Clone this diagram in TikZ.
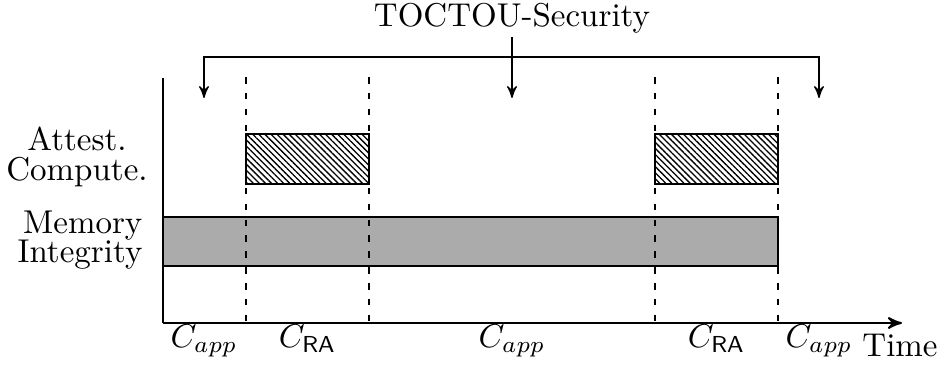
\documentclass[tikz,border=0pt]{standalone}
\usepackage{tikz}
\usetikzlibrary{arrows,patterns.meta}
\usepackage{amssymb}
\usepackage{amsmath}

\begin{document}
\begin{tikzpicture}[>=stealth',x=0.303pt,y=-0.303pt]

    \useasboundingbox (0,0) rectangle (943,373);

    % axes
    \coordinate (o) at (163,323);
    \coordinate (ytop) at (163,78);
    \coordinate (xend) at (902,323);
    \draw[semithick] (ytop) -- (o);
    \draw[semithick,->] (o) -- (xend);

    \node[rectangle,
          draw,
          fill = black!33,
          inner sep = 0pt,
          minimum width = 186.3pt,
          minimum height = 14.8pt
          ] (mem) at (470.5,241.5) {};

    \node[rectangle,
          draw,
          pattern = {Lines[angle=-45,distance=1.3pt,line width=0.4pt]},
          inner sep = 0pt,
          minimum width = 37.3pt,
          minimum height = 15.1pt
          ] (ra1) at (307.5,159) {};

    \node[rectangle,
          draw,
          pattern = {Lines[angle=-45,distance=1.3pt,line width=0.4pt]},
          inner sep = 0pt,
          minimum width = 37.3pt,
          minimum height = 15.1pt
          ] (ra2) at (716.5,159) {};

    % phase borders
    \foreach \t/\px in {a/246,b/369,c/655,d/778}{
        \coordinate (\t top) at (\px,77);
        \coordinate (\t bot) at (\px,329);
        \draw[dash pattern=on 2pt off 2.8pt] (\t top) -- (\t bot);
    }

    \node[align=center] (att) at (77,157) {Attest.\\[-3pt]Compute.};
    \node[align=right] (integ) at (80,240) {Memory\\[-3pt]Integrity};

    % toctou bracket
    \node[] (toctou) at (512,18) {TOCTOU-Security};
    \coordinate (lt) at (204,98);
    \coordinate (lc) at (204,57);
    \coordinate (rc) at (819,57);
    \coordinate (rt) at (819,98);
    \coordinate (ms) at (512,37);
    \coordinate (mt) at (512,98);
    \draw[<->] (lt) -- (lc) -- (rc) -- (rt);
    \draw[->] (ms) -- (mt);

    \node[anchor=base] (app1) at (204,348) {$C_{app}$};
    \node[anchor=base] (cra1) at (307.5,348) {$C_{\mathsf{RA}}$};
    \node[anchor=base] (app2) at (512,348) {$C_{app}$};
    \node[anchor=base] (cra2) at (716.5,348) {$C_{\mathsf{RA}}$};
    \node[anchor=base] (app3) at (819,348) {$C_{app}$};
    \node[anchor=base] (time) at (900,357) {Time};

\end{tikzpicture}
\end{document}
